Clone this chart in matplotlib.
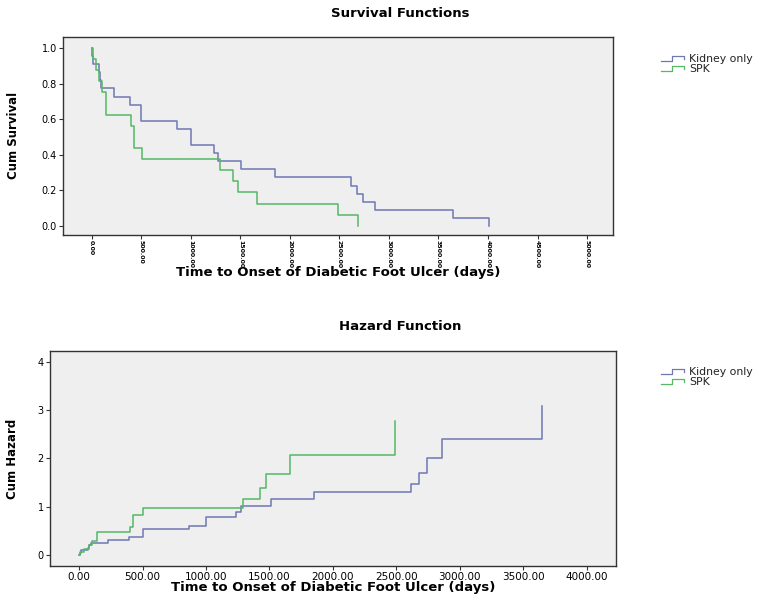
import matplotlib
matplotlib.use("Agg")
import matplotlib.pyplot as plt
from matplotlib.lines import Line2D
from matplotlib.legend_handler import HandlerBase

groups = ['Kidney only', 'SPK']
colors = ['#6e78b2', '#55b865']

# Kaplan-Meier event times (days) and survival after each event
kidney_t = [0, 5, 15, 70, 80, 95, 225, 390, 502, 865, 1000, 1235, 1278, 1510,
            1850, 2615, 2675, 2738, 2858, 3645, 4010]
kidney_s = [1.0, 0.955, 0.909, 0.864, 0.818, 0.773, 0.727, 0.682, 0.591, 0.545,
            0.455, 0.409, 0.364, 0.318, 0.273, 0.227, 0.182, 0.136, 0.091, 0.045, 0.0]
spk_t = [0, 10, 40, 75, 105, 140, 400, 425, 505, 1290, 1425, 1475, 1665, 2490, 2690]
spk_s = [1.0, 0.938, 0.875, 0.813, 0.75, 0.625, 0.563, 0.438, 0.375, 0.313, 0.25,
         0.188, 0.125, 0.063, 0.0]

# cumulative hazard at the same event times (stops before survival hits zero)
kidney_h = [0, 0.05, 0.10, 0.15, 0.20, 0.26, 0.32, 0.38, 0.53, 0.61, 0.79, 0.89,
            1.01, 1.15, 1.30, 1.48, 1.70, 2.00, 2.40, 3.09]
spk_h = [0, 0.06, 0.13, 0.21, 0.29, 0.47, 0.58, 0.83, 0.98, 1.16, 1.39, 1.67, 2.08, 2.77]

surv_xticks = list(range(0, 5001, 500))
surv_yticks = [0.0, 0.2, 0.4, 0.6, 0.8, 1.0]
haz_xticks = list(range(0, 4001, 500))
haz_yticks = [0, 1, 2, 3, 4]

xlabel = 'Time to Onset of Diabetic Foot Ulcer (days)'
bg = '#efefef'
edge = '#333333'


class StepHandler(HandlerBase):
    # little step glyph like the SPSS legend
    def create_artists(self, legend, orig_handle, xd, yd, width, height, fontsize, trans):
        x0, y0 = -xd, -yd
        xs = [x0, x0 + 0.45 * width, x0 + 0.45 * width, x0 + 0.9 * width, x0 + 0.9 * width]
        ys = [y0 + 0.1 * height, y0 + 0.1 * height, y0 + 0.9 * height,
              y0 + 0.9 * height, y0 + 0.45 * height]
        ln = Line2D(xs, ys, color=orig_handle.get_color(), lw=0.9, transform=trans)
        return [ln]


def style_axes(ax):
    ax.set_facecolor(bg)
    for sp in ax.spines.values():
        sp.set_color(edge)
        sp.set_linewidth(1.0)
    ax.tick_params(direction='out', length=3, width=0.8, color=edge,
                   labelsize=7, top=False, right=False, pad=1.5)


def add_legend(fig, y):
    handles = [Line2D([], [], color=c) for c in colors]
    fig.legend(handles, groups, loc='upper left', bbox_to_anchor=(0.853, y),
               frameon=False, fontsize=7.8, handlelength=2.4, handleheight=0.6,
               handletextpad=0.25, labelspacing=0.0, borderpad=0,
               labelcolor='#222222', handler_map={Line2D: StepHandler()})


fig = plt.figure(figsize=(7.68, 5.96), dpi=100)

# survival functions
ax1 = fig.add_axes([0.082, 0.606, 0.716, 0.332])
ax1.step(kidney_t, kidney_s, where='post', color=colors[0], lw=1.1)
ax1.step(spk_t, spk_s, where='post', color=colors[1], lw=1.1)
ax1.set_xlim(-290, 5260)
ax1.set_ylim(-0.05, 1.062)
ax1.set_xticks(surv_xticks)
ax1.set_xticklabels(['%.2f' % v for v in surv_xticks], rotation=-90, fontweight='bold')
ax1.set_yticks(surv_yticks)
ax1.set_yticklabels(['%.1f' % v for v in surv_yticks])
style_axes(ax1)
ax1.tick_params(axis='x', labelsize=4.5, pad=1)
ax1.set_ylabel('Cum Survival', fontsize=8.5, fontweight='bold',
               family=['Liberation Sans Narrow', 'DejaVu Sans'])
ax1.yaxis.set_label_coords(-0.078, 0.5)
ax1.set_xlabel(xlabel, fontsize=9.5, fontweight='bold')
ax1.xaxis.set_label_coords(0.5, -0.16)
fig.text(0.521, 0.978, 'Survival Functions', ha='center', va='center',
         fontsize=9.5, fontweight='bold')
add_legend(fig, 0.918)

# hazard function
ax2 = fig.add_axes([0.065, 0.050, 0.737, 0.361])
ax2.step(kidney_t[:len(kidney_h)], kidney_h, where='post', color=colors[0], lw=1.1)
ax2.step(spk_t[:len(spk_h)], spk_h, where='post', color=colors[1], lw=1.1)
ax2.set_xlim(-230, 4230)
ax2.set_ylim(-0.23, 4.22)
ax2.set_xticks(haz_xticks)
ax2.set_xticklabels(['%.2f' % v for v in haz_xticks])
ax2.set_yticks(haz_yticks)
style_axes(ax2)
ax2.tick_params(axis='x', labelsize=7.5, pad=1)
ax2.set_ylabel('Cum Hazard', fontsize=8.5, fontweight='bold',
               family=['Liberation Sans Narrow', 'DejaVu Sans'])
ax2.yaxis.set_label_coords(-0.054, 0.5)
ax2.set_xlabel(xlabel, fontsize=9.5, fontweight='bold')
ax2.xaxis.set_label_coords(0.5, -0.068)
fig.text(0.521, 0.453, 'Hazard Function', ha='center', va='center',
         fontsize=9.5, fontweight='bold')
add_legend(fig, 0.393)

fig.savefig('out.png', dpi=100)
